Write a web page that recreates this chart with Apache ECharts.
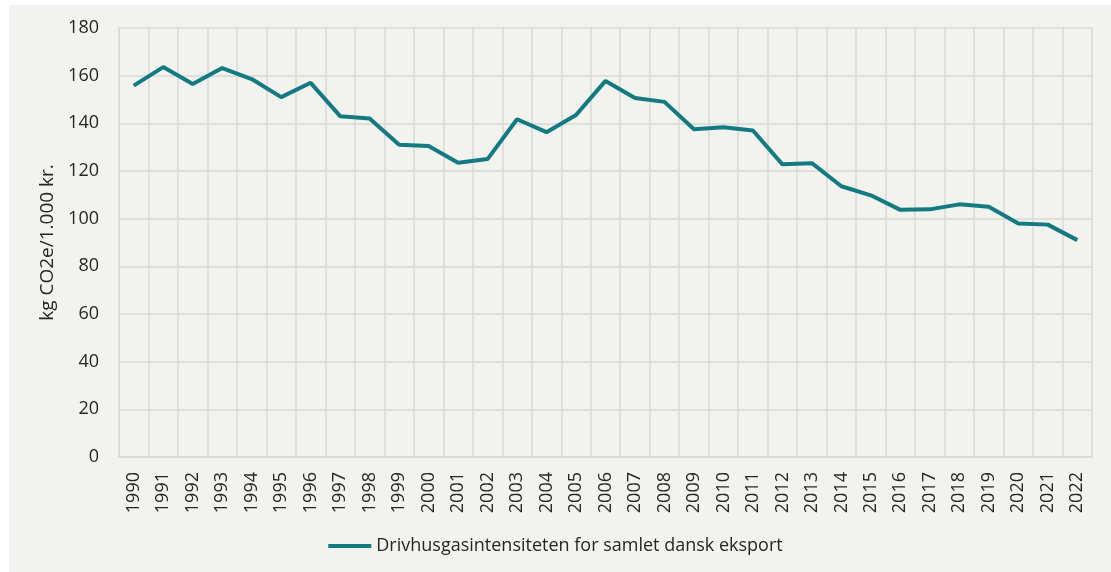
<!DOCTYPE html>
<html>
<head>
<meta charset="utf-8">
<script src="https://cdn.jsdelivr.net/npm/echarts@6/dist/echarts.min.js"></script>
<style>
  html, body { margin: 0; padding: 0; background: #ffffff; }
  #chart { width: 1111px; height: 572px; }
</style>
</head>
<body>
<div id="chart"></div>
<script>
// data
var years = ['1990','1991','1992','1993','1994','1995','1996','1997','1998','1999',
             '2000','2001','2002','2003','2004','2005','2006','2007','2008','2009',
             '2010','2011','2012','2013','2014','2015','2016','2017','2018','2019',
             '2020','2021','2022'];
var intensity = [155.8, 163.6, 156.5, 163.2, 158.6, 151.0, 157.0, 143.0, 142.0, 131.0,
                 130.5, 123.5, 125.0, 141.7, 136.3, 143.5, 157.8, 150.6, 149.0, 137.5,
                 138.4, 137.0, 122.8, 123.3, 113.6, 109.8, 103.7, 103.9, 106.0, 105.0,
                 98.0, 97.5, 91.0];
var seriesName = 'Drivhusgasintensiteten for samlet dansk eksport';
var yAxisName = 'kg CO2e/1.000 kr.';

var chart = echarts.init(document.getElementById('chart'));
var font = '"Open Sans", "Noto Sans", sans-serif';
var gridColor = '#d9d9d9';
var textColor = '#262626';

chart.setOption({
    animation: false,
    backgroundColor: 'transparent',
    textStyle: { fontFamily: font },
    graphic: [{
        type: 'rect',
        z: -10,
        shape: { x: 9, y: 5, width: 1102, height: 567 },
        style: { fill: '#f2f2ee' }
    }],
    legend: {
        bottom: 12,
        left: 'center',
        icon: 'rect',
        itemWidth: 43,
        itemHeight: 4,
        itemGap: 10,
        textStyle: { fontSize: 18, color: textColor, fontFamily: font },
        data: [seriesName]
    },
    grid: { left: 119, right: 19, top: 28, bottom: 115 },
    xAxis: {
        type: 'category',
        data: years,
        boundaryGap: true,
        axisLine: { show: true, lineStyle: { color: gridColor, width: 1.5 } },
        axisTick: { show: false },
        splitLine: { show: true, lineStyle: { color: gridColor, width: 1.5 } },
        axisLabel: {
            rotate: 90,
            interval: 0,
            margin: 15,
            fontSize: 18,
            color: textColor,
            fontFamily: font
        }
    },
    yAxis: {
        type: 'value',
        min: 0,
        max: 180,
        interval: 20,
        name: yAxisName,
        nameLocation: 'middle',
        nameGap: 62,
        nameTextStyle: { fontSize: 19, color: textColor, fontFamily: font },
        axisLine: { show: true, lineStyle: { color: gridColor, width: 1.5 } },
        axisTick: { show: false },
        splitLine: { lineStyle: { color: gridColor, width: 1.5 } },
        axisLabel: { fontSize: 18, color: textColor, margin: 20, fontFamily: font }
    },
    series: [{
        name: seriesName,
        type: 'line',
        data: intensity,
        symbol: 'none',
        lineStyle: { color: '#137a82', width: 4 },
        itemStyle: { color: '#137a82' }
    }]
});
</script>
</body>
</html>
